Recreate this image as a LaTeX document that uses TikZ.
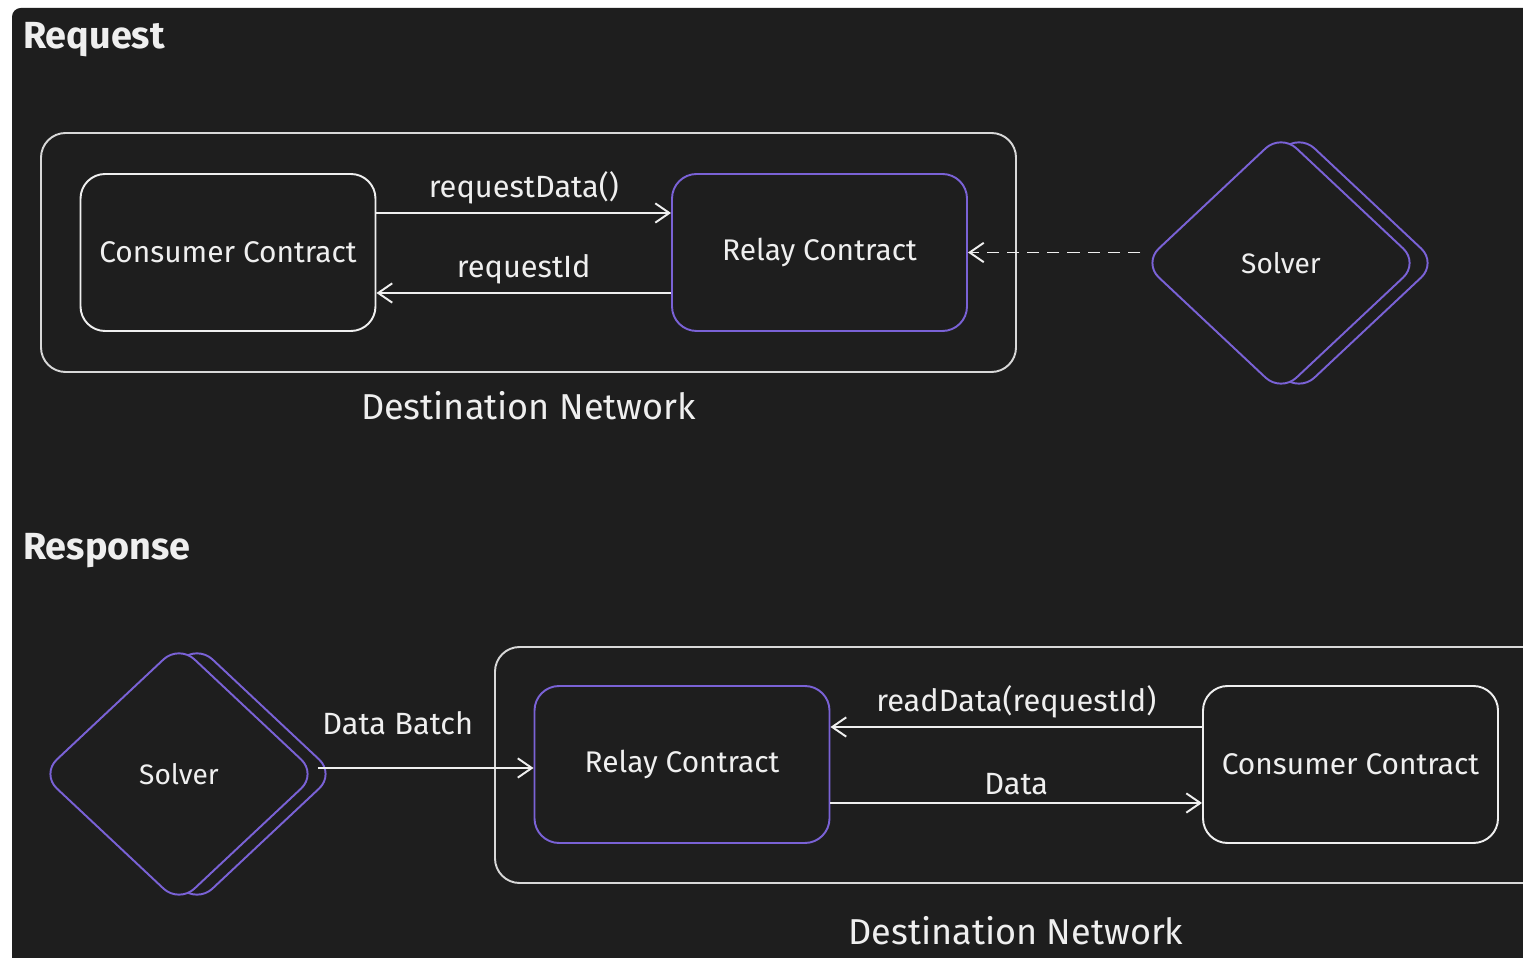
\documentclass[tikz,border=0pt]{standalone}
\usepackage{fontspec}
\setmainfont{Fira Sans}
\usepackage{xcolor}
\usepackage{tikz}
\usetikzlibrary{positioning, shapes.geometric, arrows.meta, calc}

\definecolor{canvas}{HTML}{1E1E1E}
\definecolor{solverpurple}{HTML}{7A62D6}
\definecolor{strokegray}{HTML}{D8D8D8}
\definecolor{inkwhite}{HTML}{EFEFEF}

\begin{document}
\begin{tikzpicture}[
	contract/.style={draw=inkwhite, line width=1.1pt, rounded corners=14pt, minimum width=5.9cm, minimum height=3.14cm, text=inkwhite, font=\fontsize{17}{19}\selectfont},
	relay/.style={contract, draw=solverpurple},
	network/.style={draw=strokegray, line width=1.1pt, rounded corners=14pt},
	solver/.style={diamond, draw=solverpurple, fill=canvas, line width=1.1pt, rounded corners=12pt, minimum width=5.52cm, minimum height=5.18cm, inner sep=0pt, text=inkwhite, font=\fontsize{16}{18}\selectfont},
	msg/.style={draw=inkwhite, line width=1.1pt, -{Straight Barb[length=8pt,width=11pt]}},
	lbl/.style={text=inkwhite, font=\fontsize{17.5}{20}\selectfont},
	title/.style={text=inkwhite, font=\fontsize{21.5}{25}\selectfont\bfseries, anchor=west},
	netname/.style={text=inkwhite, font=\fontsize{20.5}{24}\selectfont}
	]
	\clip (0,0) rectangle (30.46,19.14);
	\fill[white] (0,0) rectangle (30.46,19.14);
	\fill[canvas, rounded corners=5pt] (0.24,-1) rectangle (31.5,18.98);
	
	% request
	\node[title] (reqTitle) at (0.34,18.34) {Request};
	\node[network, minimum width=19.5cm, minimum height=4.78cm] (netA) at (10.57,14.09) {};
	\node[netname, below=0.25cm of netA] (netAname) {Destination Network};
	\node[contract] (consumerA) at (4.56,14.09) {Consumer Contract};
	\node[relay] (relayA) at (16.39,14.09) {Relay Contract};
	\node[solver, fill=none] (solverAback) at (25.98,13.88) {};
	\node[solver] (solverA) at (25.62,13.88) {Solver};
	
	\draw[msg] ([yshift=0.79cm]consumerA.east) -- node[lbl, above=1pt] {requestData()} ([yshift=0.79cm]relayA.west);
	\draw[msg] ([yshift=-0.81cm]relayA.west) -- node[lbl, above=1pt] {requestId} ([yshift=-0.81cm]consumerA.east);
	\draw[msg, dash pattern=on 7pt off 4.5pt] ([xshift=-1pt]solverA.west |- relayA.east) -- (relayA.east);
	
	% response
	\node[title] (resTitle) at (0.34,8.12) {Response};
	\node[network, minimum width=21.1cm, minimum height=4.72cm] (netB) at (20.45,3.84) {};
	\node[netname, below=0.52cm of netB, xshift=-0.13cm] (netBname) {Destination Network};
	\node[relay] (relayB) at (13.64,3.85) {Relay Contract};
	\node[contract] (consumerB) at (27.01,3.85) {Consumer Contract};
	\node[solver, fill=none] (solverBback) at (3.94,3.66) {};
	\node[solver] (solverB) at (3.58,3.66) {Solver};
	
	\draw[msg] ([yshift=0.75cm]consumerB.west) -- node[lbl, above=1pt] {readData(requestId)} ([yshift=0.75cm]relayB.east);
	\draw[msg] ([yshift=-0.77cm]relayB.east) -- node[lbl, above=1pt] {Data} ([yshift=-0.77cm]consumerB.west);
	\draw[msg] ([yshift=-0.07cm]solverB.east |- relayB.west) -- node[lbl, above=15pt, pos=0.37] {Data Batch} ([yshift=-0.07cm]relayB.west);
\end{tikzpicture}
\end{document}
